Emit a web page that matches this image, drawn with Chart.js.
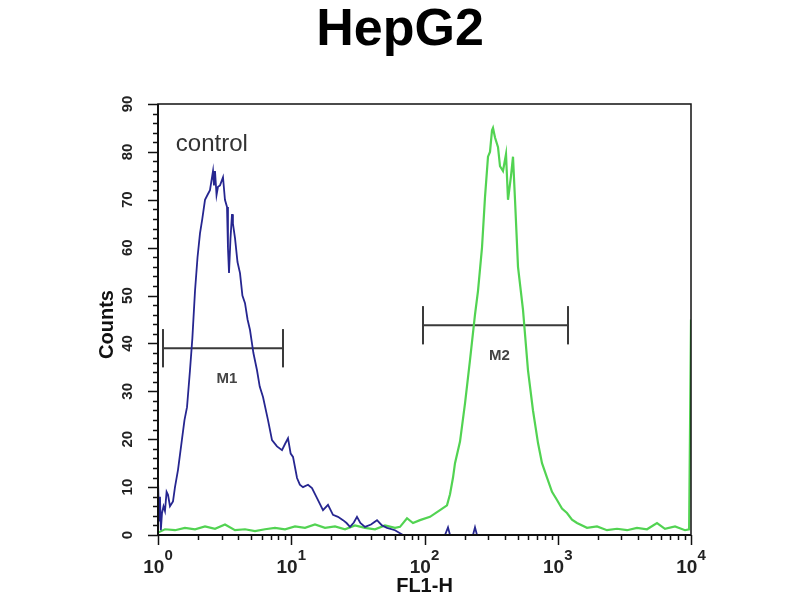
<!DOCTYPE html>
<html><head><meta charset="utf-8">
<script src="https://cdn.jsdelivr.net/npm/chart.js"></script>
<style>html,body{margin:0;padding:0;background:#fff}canvas{display:block}</style>
</head><body>
<canvas id="c" width="800" height="600"></canvas>
<script>
const chartTitle = 'HepG2';
const xAxisTitle = 'FL1-H';
const yAxisTitle = 'Counts';
const controlLabel = 'control';
const yTickValues = [0, 10, 20, 30, 40, 50, 60, 70, 80, 90];
const xTickValues = [1, 10, 100, 1000, 10000];
const xTickBase = '10';
const xTickExponents = ['0', '1', '2', '3', '4'];

const controlFL1 = [1.00,1.02,1.035,1.05,1.072,1.10,1.128,1.16,1.189,1.23,1.296,1.341,1.413,1.514,1.58,1.651,1.738,1.81,1.896,1.98,2.066,2.15,2.253,2.35,2.455,2.52,2.587,2.63,2.678,2.75,2.82,2.92,3.075,3.18,3.295,3.35,3.411,3.5,3.593,3.65,3.784,3.95,4.125,4.3,4.497,4.7,4.903,5.2,5.533,5.8,6.138,6.692,7.171,7.816,8.524,8.977,9.455,9.9,10.31,11.05,11.6,12.25,13.36,14.31,15.61,17.31,18.87,20.57,22.43,24.46,26,27.61,29.5,31.14,33,35.77,39.67,44.01,47.97,52.33,60.06,68.96,142.5,150.1,155.4,231.2,239.3,247.7,10000];
const controlCounts = [11.5,3,8,1,4.6,6,5,9,8.4,6,7,10,13.6,20,24,26.7,34.4,41,51,58,63,66,70,71,72,74,76,73,76,71,72.7,73,74.7,70,68.5,60,54.7,62,67,65,62,57,54.7,50,48.4,45,42.8,38,34.4,31,28.8,24,19.8,18.5,17.7,19,20.2,17,16.3,11.9,10.5,10,10.5,9.8,7.7,5.2,6.3,4.2,3.8,3.1,2.5,1.7,2.6,3.8,2.5,1.7,2.2,3.1,2,1.5,1,0,0,1.6,0,0,1.6,0,0];

const sampleFL1 = [1.00,1.128,1.341,1.594,1.896,2.253,2.678,3.183,3.784,4.497,5.345,6.353,7.551,8.977,10.67,12.68,15.07,17.92,21.30,25.32,30.09,35.77,42.51,50.53,60.06,65.5,73.9,81.98,92.5,110,130.7,147.5,155.4,163.7,169.4,184.7,201.4,219.5,239.3,252.1,270.1,284.4,299.6,310.1,321.1,326.7,338.2,356.2,368.7,388.2,409,423.3,445.9,461.5,477.8,503.2,548.6,598,652,711,761.8,830.5,905.5,987,1076,1173,1279,1395,1658,1971,2342,2785,3310,3934,4676,5557,6381,7585,9016,9680,10000];
const sampleCounts = [0.5,1.2,1.0,1.5,1.2,1.8,1.3,2.2,1.0,1.2,0.8,1.2,1.5,1.2,1.8,1.5,2.2,1.5,1.8,1.2,2.0,1.5,1.2,2.0,1.5,1.7,3.5,2.5,3.1,3.8,5.2,6.2,8.5,12,15,19.5,27.5,36.5,46,51,60,70.5,79,80,84.5,85,83,81,77,76,79.5,70,75,79,70,56,47,34.4,26,19.2,15,12,9,7.3,5.5,4.6,3.2,2.5,1.5,1.8,1.0,1.3,1.0,1.5,1.2,2.5,1.3,1.8,1.0,1.2,45];

const markerNames = ['M1', 'M2'];
const markerStarts = [1.09, 97.4];
const markerEnds = [8.67, 1194];
const markerLevels = [39, 43.8];

const FONT = '"Liberation Sans", Arial, sans-serif';
const CAP = 4; // marker cap half-height in count units

function pts(xs, ys) { return xs.map((x, i) => ({x: x, y: ys[i]})); }

const datasets = [
  {label: 'control', data: pts(controlFL1, controlCounts), borderColor: '#262690', borderWidth: 1.8},
  {label: 'sample', data: pts(sampleFL1, sampleCounts), borderColor: '#52d352', borderWidth: 2.2}
];
markerNames.forEach((n, i) => {
  const s = markerStarts[i], e = markerEnds[i], l = markerLevels[i];
  datasets.push({label: n, data: [{x: s, y: l}, {x: e, y: l}], borderColor: '#3a3a3a', borderWidth: 2});
  datasets.push({label: n + ' start', data: [{x: s, y: l - CAP}, {x: s, y: l + CAP}], borderColor: '#3a3a3a', borderWidth: 2});
  datasets.push({label: n + ' end', data: [{x: e, y: l - CAP}, {x: e, y: l + CAP}], borderColor: '#3a3a3a', borderWidth: 2});
});
datasets.forEach(d => { d.pointRadius = 0; d.tension = 0; d.fill = false; });

const decor = {
  id: 'decor',
  afterDraw(chart) {
    const {ctx, chartArea: a, scales: {x, y}} = chart;
    ctx.save();
    // frame
    ctx.strokeStyle = '#111';
    ctx.lineWidth = 1.5;
    ctx.strokeRect(a.left, a.top, a.right - a.left, a.bottom - a.top);
    ctx.lineWidth = 2;
    ctx.beginPath();
    ctx.moveTo(a.left, a.top); ctx.lineTo(a.left, a.bottom); ctx.lineTo(a.right, a.bottom);
    ctx.stroke();
    // y ticks
    ctx.lineWidth = 1.5;
    ctx.beginPath();
    for (let v = 0; v <= 90; v += 2) {
      const py = Math.round(y.getPixelForValue(v)) + 0.5;
      const len = v % 10 === 0 ? 10 : 5;
      ctx.moveTo(a.left - len, py); ctx.lineTo(a.left, py);
    }
    // x ticks
    for (let k = 0; k < 4; k++) {
      for (let m = 1; m <= 9; m++) {
        const v = m * Math.pow(10, k);
        const px = Math.round(x.getPixelForValue(v)) + 0.5;
        const len = m === 1 ? 10 : 5;
        ctx.moveTo(px, a.bottom); ctx.lineTo(px, a.bottom + len);
      }
    }
    const pe = Math.round(x.getPixelForValue(10000)) + 0.5;
    ctx.moveTo(pe, a.bottom); ctx.lineTo(pe, a.bottom + 10);
    ctx.stroke();
    // y tick labels
    ctx.fillStyle = '#222';
    ctx.font = 'bold 15px ' + FONT;
    ctx.textAlign = 'center';
    ctx.textBaseline = 'middle';
    yTickValues.forEach(v => {
      ctx.save();
      ctx.translate(a.left - 30, y.getPixelForValue(v));
      ctx.rotate(-Math.PI / 2);
      ctx.fillText(String(v), 0, 0);
      ctx.restore();
    });
    // x tick labels
    ctx.textBaseline = 'alphabetic';
    ctx.textAlign = 'left';
    xTickValues.forEach((v, i) => {
      const px = x.getPixelForValue(v);
      ctx.font = 'bold 19px ' + FONT;
      const w1 = ctx.measureText(xTickBase).width;
      ctx.font = 'bold 15px ' + FONT;
      const w2 = ctx.measureText(xTickExponents[i]).width;
      const sx = px - (w1 + w2) / 2;
      ctx.font = 'bold 19px ' + FONT;
      ctx.fillText(xTickBase, sx, a.bottom + 38);
      ctx.font = 'bold 15px ' + FONT;
      ctx.fillText(xTickExponents[i], sx + w1, a.bottom + 25);
    });
    // axis titles
    ctx.fillStyle = '#111';
    ctx.font = 'bold 20px ' + FONT;
    ctx.textAlign = 'center';
    ctx.textBaseline = 'middle';
    ctx.fillText(xAxisTitle, (a.left + a.right) / 2, a.bottom + 51);
    ctx.save();
    ctx.translate(a.left - 51, (a.top + a.bottom) / 2 + 5);
    ctx.rotate(-Math.PI / 2);
    ctx.fillText(yAxisTitle, 0, 0);
    ctx.restore();
    // chart title
    ctx.fillStyle = '#000';
    ctx.font = 'bold 52px ' + FONT;
    ctx.textBaseline = 'alphabetic';
    ctx.fillText(chartTitle, 400, 45);
    // control label
    ctx.fillStyle = '#333';
    ctx.font = '24px ' + FONT;
    ctx.textAlign = 'left';
    ctx.textBaseline = 'middle';
    ctx.fillText(controlLabel, x.getPixelForValue(1.36), y.getPixelForValue(81.5));
    // marker labels
    ctx.font = 'bold 15px ' + FONT;
    ctx.fillStyle = '#444';
    ctx.textAlign = 'center';
    markerNames.forEach((n, i) => {
      const mid = Math.sqrt(markerStarts[i] * markerEnds[i]);
      ctx.fillText(n, x.getPixelForValue(mid) + 4, y.getPixelForValue(markerLevels[i]) + 31);
    });
    ctx.restore();
  }
};

new Chart(document.getElementById('c'), {
  type: 'line',
  data: {datasets: datasets},
  options: {
    responsive: false,
    animation: false,
    devicePixelRatio: 1,
    layout: {padding: {top: 104, right: 109, left: 0, bottom: 0}},
    plugins: {legend: {display: false}, tooltip: {enabled: false}, title: {display: false}},
    scales: {
      x: {
        type: 'logarithmic', min: 1, max: 10000,
        grid: {display: false}, border: {display: false},
        ticks: {display: false},
        afterFit: s => { s.height = 65; }
      },
      y: {
        type: 'linear', min: 0, max: 90,
        grid: {display: false}, border: {display: false},
        ticks: {display: false, stepSize: 10},
        afterFit: s => { s.width = 158; }
      }
    }
  },
  plugins: [decor]
});
</script>
</body></html>
